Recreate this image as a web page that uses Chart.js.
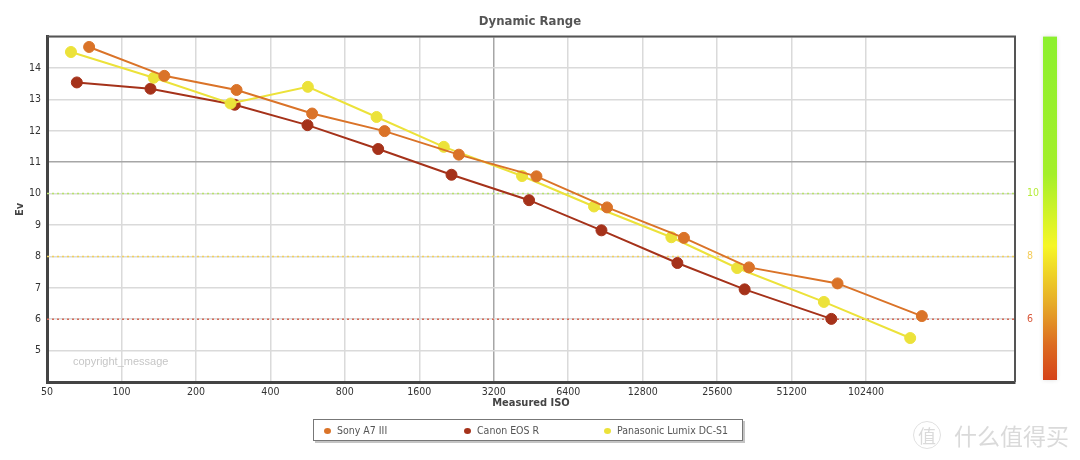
<!DOCTYPE html>
<html>
<head>
<meta charset="utf-8">
<script src="https://cdn.jsdelivr.net/npm/chart.js@4.4.1/dist/chart.umd.min.js"></script>
<style>
  html, body { margin: 0; padding: 0; background: #fff; }
  #wrap { position: relative; width: 1080px; height: 460px; }
  #chart { position: absolute; left: 0; top: 0; }
  #legend {
    position: absolute; left: 313px; top: 419px; width: 428px; height: 20px;
    border: 1px solid #777; box-shadow: 2px 2px 0 #c4c4c4; background: #fff;
    font: 10.5px "DejaVu Sans Condensed", "DejaVu Sans", sans-serif; color: #555;
  }
  #legend .item { position: absolute; top: 0; height: 20px; line-height: 20px; white-space: nowrap; }
  #legend .dot { display: inline-block; width: 7px; height: 6px; border-radius: 50%; margin-right: 6px; vertical-align: 0; }
  #wm { position: absolute; left: 913px; top: 418px; height: 32px; color: #dadada; white-space: nowrap; }
  #wm .logo {
    display: inline-block; width: 26px; height: 26px; border: 1.5px solid #e0e0e0; border-radius: 50%;
    text-align: center; line-height: 26px; font: 18px "Noto Sans CJK SC", sans-serif; vertical-align: middle;
  }
  #wm .txt { font: 23px "Noto Sans CJK SC", sans-serif; vertical-align: middle; margin-left: 13px; }
</style>
</head>
<body>
<div id="wrap">
  <canvas id="chart" width="1080" height="460"></canvas>
  <div id="legend"></div>
  <div id="wm"><span class="logo">值</span><span class="txt">什么值得买</span></div>
</div>
<script>
  // ------------------------------ Data --------------------------------------
  const ISO_TICKS = [50, 100, 200, 400, 800, 1600, 3200, 6400, 12800, 25600, 51200, 102400];
  const ISO_MIN = 50;
  const ISO_MAX = 409600;
  const EV_MIN = 4;
  const EV_MAX = 15;

  const SERIES_NAMES = ['Sony A7 III', 'Canon EOS R', 'Panasonic Lumix DC-S1'];

  const sonyIso = [74, 149, 292, 590, 1158, 2311, 4761, 9185, 18794, 34420, 78500, 172100];
  const sonyEv = [14.67, 13.75, 13.3, 12.55, 11.99, 11.24, 10.55, 9.56, 8.59, 7.65, 7.14, 6.1];

  const canonIso = [66, 131, 287, 565, 1091, 2159, 4444, 8720, 17680, 33060, 74100];
  const canonEv = [13.54, 13.34, 12.83, 12.18, 11.42, 10.6, 9.79, 8.83, 7.79, 6.95, 6.01];

  const panaIso = [62.5, 135, 276, 567, 1075, 2010, 4164, 8136, 16715, 30830, 69150, 154400];
  const panaEv = [14.51, 13.69, 12.87, 13.4, 12.44, 11.49, 10.56, 9.59, 8.61, 7.63, 6.55, 5.4];

  const THRESHOLDS = [10, 8, 6];

  // ----------------------------- Styling ------------------------------------
  const FONT = '"DejaVu Sans Condensed", "DejaVu Sans", sans-serif';
  const COL = {
    sony: '#da7328',
    canon: '#a5321a',
    pana: '#ece23a',
    grid: '#dadada',
    gridDark: '#a6a6a6',
    axis: '#444',
    text: '#333',
  };
  const THRESH_LINE = { 10: '#b8e46a', 8: '#f3d25a', 6: '#d46a58' };
  const THRESH_TEXT = { 10: '#b6ec3a', 8: '#f4cc58', 6: '#d9583a' };

  function toPoints(xs, ys) {
    return xs.map((x, i) => ({ x, y: ys[i] }));
  }

  function seriesDataset(label, xs, ys, color, order) {
    return {
      label,
      data: toPoints(xs, ys),
      borderColor: color,
      backgroundColor: color,
      pointBackgroundColor: color,
      pointBorderColor: color,
      borderWidth: 2,
      pointRadius: 5.5,
      pointBorderWidth: 1,
      tension: 0,
      order,
    };
  }

  const thresholdSets = THRESHOLDS.map((t) => ({
    label: 'th' + t,
    data: [{ x: ISO_MIN, y: t }, { x: ISO_MAX, y: t }],
    borderColor: THRESH_LINE[t],
    borderWidth: 1.5,
    borderDash: [2, 3],
    pointRadius: 0,
    order: 10,
  }));

  // -------------------------- Extra drawing ---------------------------------
  const decor = {
    id: 'decor',
    afterDraw(chart) {
      const { ctx, chartArea: a } = chart;
      ctx.save();
      // top / right frame
      ctx.strokeStyle = '#555';
      ctx.lineWidth = 2;
      ctx.beginPath();
      ctx.moveTo(a.left, a.top);
      ctx.lineTo(a.right, a.top);
      ctx.lineTo(a.right, a.bottom);
      ctx.stroke();

      // copyright
      ctx.fillStyle = '#c6c6c6';
      ctx.font = '11px "Liberation Sans", Arial, sans-serif';
      ctx.textBaseline = 'middle';
      ctx.fillText('copyright_message', 73, 362);

      // colour bar
      const bx = 1043, bw = 14, by = a.top, bh = a.bottom - 2 - a.top;
      ctx.shadowColor = 'rgba(0,0,0,0.12)';
      ctx.shadowBlur = 4;
      const g = ctx.createLinearGradient(0, by, 0, by + bh);
      g.addColorStop(0, '#8cf02e');
      g.addColorStop(0.4, '#a4ef2a');
      g.addColorStop(0.61, '#f6f626');
      g.addColorStop(0.78, '#e6aa28');
      g.addColorStop(0.9, '#dc6a20');
      g.addColorStop(1, '#d5431a');
      ctx.fillStyle = g;
      ctx.fillRect(bx, by, bw, bh);
      ctx.restore();
    },
  };

  // ------------------------------ Chart -------------------------------------
  new Chart(document.getElementById('chart').getContext('2d'), {
    type: 'line',
    data: {
      datasets: [
        seriesDataset(SERIES_NAMES[0], sonyIso, sonyEv, COL.sony, 0),
        seriesDataset(SERIES_NAMES[1], canonIso, canonEv, COL.canon, 2),
        seriesDataset(SERIES_NAMES[2], panaIso, panaEv, COL.pana, 1),
        ...thresholdSets,
      ],
    },
    options: {
      responsive: false,
      animation: false,
      events: [],
      // left padding keeps the title centred over the plot area
      layout: { padding: { left: 20, right: 40, top: 0, bottom: 50 } },
      scales: {
        x: {
          type: 'logarithmic',
          min: ISO_MIN,
          max: ISO_MAX,
          afterBuildTicks: (s) => { s.ticks = ISO_TICKS.map((v) => ({ value: v })); },
          afterFit: (s) => { s.height = 28; },
          ticks: {
            autoSkip: false, maxRotation: 0, padding: 4,
            color: COL.text, font: { family: FONT, size: 10.5 },
            callback: (v) => String(v),
          },
          grid: {
            drawTicks: false,
            lineWidth: 1.5,
            color: (c) => (c.tick && c.tick.value === 3200 ? COL.gridDark : COL.grid),
          },
          border: { color: COL.axis, width: 3 },
          title: {
            display: true, text: 'Measured ISO', color: '#444',
            font: { family: FONT, size: 11, weight: 'bold' }, padding: { top: 0, bottom: 0 },
          },
        },
        y: {
          type: 'linear',
          min: EV_MIN,
          max: EV_MAX,
          afterFit: (s) => { s.width = 27; },
          ticks: {
            stepSize: 1, padding: 6, color: COL.text, font: { family: FONT, size: 10.5 },
            callback: (v) => (v === EV_MIN || v === EV_MAX ? '' : v),
          },
          grid: {
            drawTicks: false,
            lineWidth: 1.5,
            color: (c) => (c.tick && c.tick.value === 11 ? COL.gridDark : COL.grid),
          },
          border: { color: COL.axis, width: 3 },
          title: {
            display: true, text: 'Ev', color: '#444',
            font: { family: FONT, size: 11, weight: 'bold' }, padding: { top: -6, bottom: 0 },
          },
        },
        y2: {
          type: 'linear',
          position: 'right',
          min: EV_MIN,
          max: EV_MAX,
          afterBuildTicks: (s) => { s.ticks = THRESHOLDS.map((v) => ({ value: v })); },
          afterFit: (s) => { s.width = 25; },
          ticks: {
            padding: 4, font: { family: FONT, size: 10.5 },
            color: (c) => THRESH_TEXT[c.tick.value] || '#999',
          },
          grid: { display: false },
          border: { display: false },
        },
      },
      plugins: {
        legend: { display: false },
        tooltip: { enabled: false },
        title: {
          display: true, text: 'Dynamic Range', color: '#555',
          font: { family: FONT, size: 13, weight: 'bold' },
          padding: { top: 14, bottom: 7 },
        },
      },
    },
    plugins: [decor],
  });

  // ------------------------------ Legend ------------------------------------
  const legendColors = [COL.sony, COL.canon, COL.pana];
  const legend = document.getElementById('legend');
  SERIES_NAMES.forEach((name, i) => {
    const it = document.createElement('div');
    it.className = 'item';
    it.style.left = (10 + i * 140) + 'px';
    it.innerHTML = '<span class="dot" style="background:' + legendColors[i] + '"></span>' + name;
    legend.appendChild(it);
  });
</script>
</body>
</html>
